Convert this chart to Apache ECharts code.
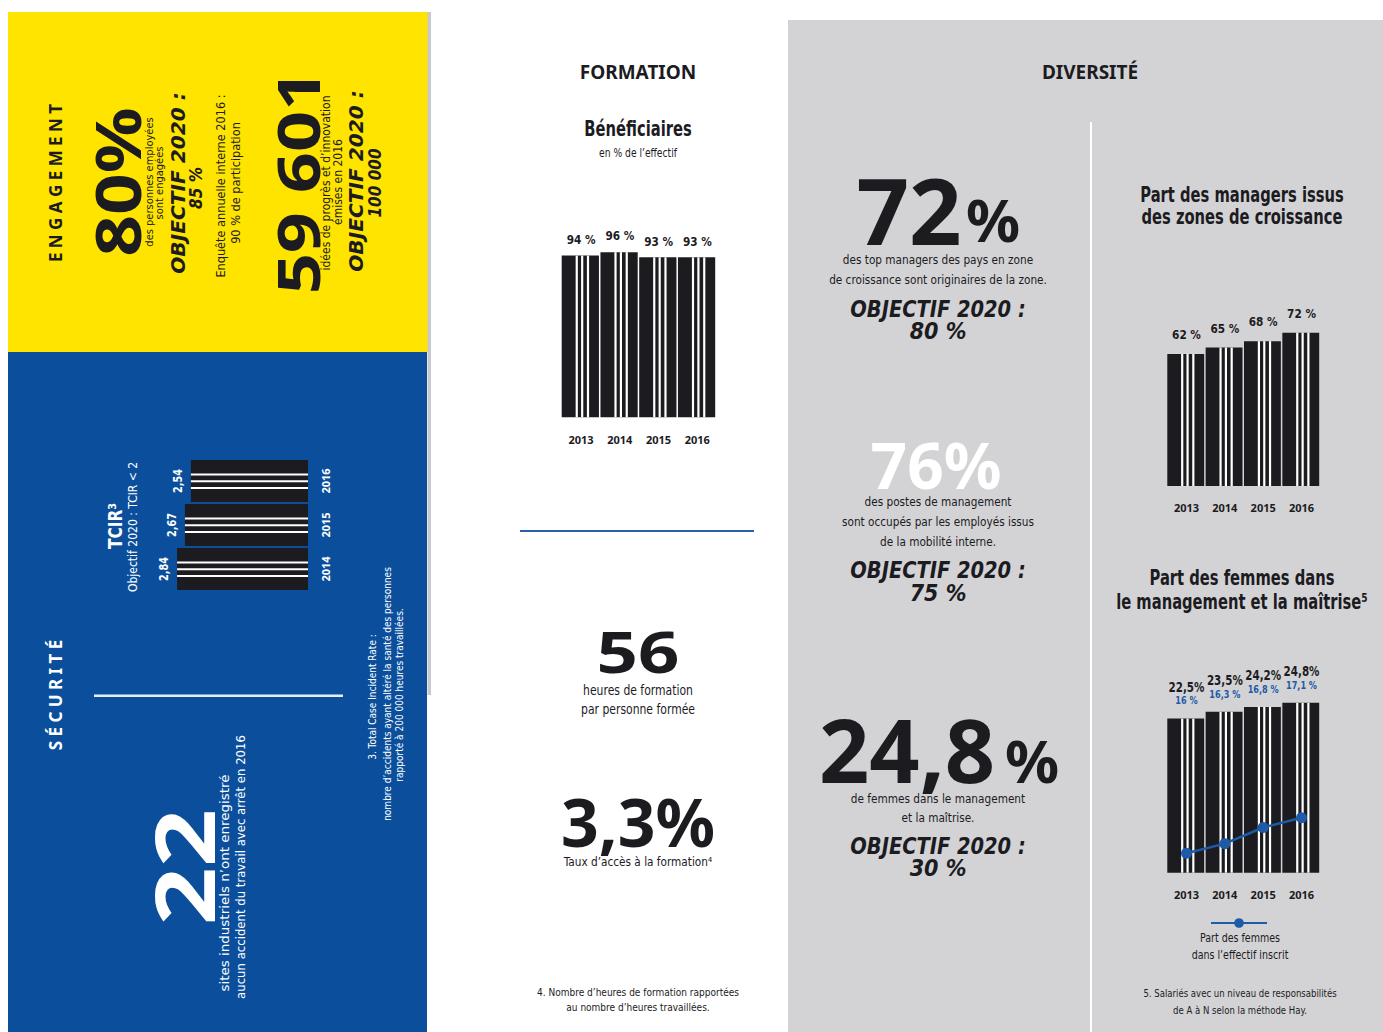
<!DOCTYPE html>
<html>
<head>
<meta charset="utf-8">
<script src="https://cdn.jsdelivr.net/npm/echarts@6/dist/echarts.min.js"></script>
<style>
  html, body { margin: 0; padding: 0; background: #fff; }
  #chart { width: 1383px; height: 1032px; }
</style>
</head>
<body>
<div id="chart"></div>
<script>
// chart values
const formationYears = ['2013', '2014', '2015', '2016'];
const formationValues = [94, 96, 93, 93];
const tcirYears = ['2014', '2015', '2016'];
const tcirValues = [2.84, 2.67, 2.54];
const managerYears = ['2013', '2014', '2015', '2016'];
const managerValues = [62, 65, 68, 72];
const womenYears = ['2013', '2014', '2015', '2016'];
const womenMgmtValues = [22.5, 23.5, 24.2, 24.8];
const womenStaffValues = [16, 16.3, 16.8, 17.1];

const INK = '#1c1b1f';
const BLUE = '#0b4f9c';
const YELLOW = '#ffe400';
const GRAY = '#d3d3d5';
const LINEBLUE = '#1d5aa8';
const NARROW = '"Liberation Sans Narrow", "DejaVu Sans Condensed", "Roboto Condensed", sans-serif';
const BOLD = '"Noto Sans", "Open Sans", sans-serif';
const STRIPES = [0.36, 0.5, 0.65];

const fr = v => String(v).replace('.', ',');

// text helper: sx squeezes/stretches along the reading direction
const txt = (text, x, y, size, o = {}) => ({
  type: 'text', x: x, y: y, z: 100,
  rotation: o.rot ? Math.PI / 2 : 0,
  scaleX: o.sx || 1,
  style: {
    text: text, fill: o.color || INK, align: 'center', verticalAlign: 'middle',
    fontSize: size, fontWeight: o.weight || 'normal', fontStyle: o.italic ? 'italic' : 'normal',
    fontFamily: o.family || NARROW,
    lineHeight: o.lh || Math.round(size * 1.2)
  }
});
const big = (text, x, y, size, o = {}) =>
  txt(text, x, y, size, Object.assign({ weight: 'bold', family: BOLD, lh: Math.round(size * 0.72) }, o));

// vertical barcode bar with a label above
const barcodeV = (labelFn) => (params, api) => {
  const c = api.value(0), v = api.value(1);
  const top = api.coord([c, v]);
  const base = api.coord([c, 0]);
  const w = api.size([1, 0])[0];
  const x0 = top[0] - w / 2;
  const h = base[1] - top[1];
  const kids = [{ type: 'rect', shape: { x: x0, y: top[1], width: w - 1.5, height: h }, style: { fill: INK } }];
  STRIPES.forEach(f => kids.push({ type: 'rect', shape: { x: x0 + f * w, y: top[1], width: 2.2, height: h }, style: { fill: '#fff' } }));
  labelFn(params.dataIndex, v, top).forEach(t => kids.push(t));
  return { type: 'group', children: kids };
};

// horizontal barcode bar (TCIR, drawn sideways)
const barcodeH = (params, api) => {
  const v = api.value(0), c = api.value(1);
  const end = api.coord([v, c]);
  const base = api.coord([0, c]);
  const h = api.size([0, 1])[1] - 2;
  const y0 = end[1] - h / 2;
  const left = Math.min(end[0], base[0]);
  const w = Math.abs(base[0] - end[0]);
  const kids = [{ type: 'rect', shape: { x: left, y: y0, width: w, height: h }, style: { fill: INK } }];
  [0.32, 0.48, 0.64].forEach(f => kids.push({ type: 'rect', shape: { x: left, y: y0 + f * h, width: w, height: 2 }, style: { fill: '#fff' } }));
  kids.push({
    type: 'text', x: left - 13, y: end[1], rotation: Math.PI / 2, scaleX: 0.9,
    style: { text: fr(v), fill: '#fff', align: 'center', verticalAlign: 'middle', fontSize: 12, fontWeight: 'bold', fontFamily: NARROW }
  });
  return { type: 'group', children: kids };
};

const simpleLabel = (fmt, off) => (i, v, top) => [{
  type: 'text', x: top[0], y: top[1] - off, scaleX: 0.9,
  style: { text: fmt(v), fill: INK, align: 'center', verticalAlign: 'middle', fontSize: 13, fontWeight: 'bold', fontFamily: NARROW }
}];

const womenLabel = (i, v, top) => [
  { type: 'text', x: top[0], y: top[1] - 32, scaleX: 0.82,
    style: { text: fr(v) + '%', fill: INK, align: 'center', verticalAlign: 'middle', fontSize: 14, fontWeight: 'bold', fontFamily: NARROW, lineHeight: 13 } },
  { type: 'text', x: top[0], y: top[1] - 18, scaleX: 0.82,
    style: { text: fr(womenStaffValues[i]) + ' %', fill: LINEBLUE, align: 'center', verticalAlign: 'middle', fontSize: 11, fontWeight: 'bold', fontFamily: NARROW, lineHeight: 11 } }
];

const yearAxis = (idx, data, margin) => ({
  type: 'category', gridIndex: idx, data: data,
  axisLine: { show: false }, axisTick: { show: false },
  axisLabel: { margin: margin, fontSize: 11, fontWeight: 'bold', color: INK, fontFamily: BOLD }
});
const hiddenValue = (idx, min, max, extra) => Object.assign({
  type: 'value', gridIndex: idx, min: min, max: max, show: false, splitLine: { show: false }
}, extra || {});

const graphics = [
  // panels
  { type: 'rect', z: 0, shape: { x: 8, y: 12, width: 420, height: 340 }, style: { fill: YELLOW } },
  { type: 'rect', z: 0, shape: { x: 8, y: 352, width: 419, height: 680 }, style: { fill: BLUE } },
  { type: 'rect', z: 0, shape: { x: 427.5, y: 12, width: 3.5, height: 683 }, style: { fill: '#c9c9cb' } },
  { type: 'rect', z: 0, shape: { x: 788, y: 20, width: 595, height: 1012 }, style: { fill: GRAY } },
  { type: 'rect', z: 1, shape: { x: 1090, y: 122, width: 2, height: 910 }, style: { fill: '#fff' } },
  { type: 'rect', z: 1, shape: { x: 94, y: 694.5, width: 249, height: 2.5 }, style: { fill: '#e8eef8' } },
  { type: 'rect', z: 1, shape: { x: 520, y: 530, width: 234, height: 2 }, style: { fill: '#2b5ea8' } },

  // ENGAGEMENT (sideways)
  txt('E N G A G E M E N T', 55, 183, 17, { rot: true, weight: 'bold', family: BOLD }),
  big('80%', 117, 182, 63, { rot: true, sx: 1.16 }),
  txt('des personnes employées', 149, 182, 11, { rot: true, lh: 11 }),
  txt('sont engagées', 159, 183, 11, { rot: true, lh: 11 }),
  txt('OBJECTIF 2020 :', 178, 183, 20, { rot: true, weight: 'bold', italic: true, sx: 1.12, lh: 17 }),
  txt('85 %', 196, 188, 17, { rot: true, weight: 'bold', italic: true, lh: 15 }),
  txt('Enquête annuelle interne 2016 :', 221, 186, 12, { rot: true, sx: 1.05, lh: 13 }),
  txt('90 % de participation', 236, 183, 12, { rot: true, sx: 1.05, lh: 13 }),
  big('59 601', 296, 182, 60, { rot: true, sx: 1.2 }),
  txt('idées de progrès et d\u2019innovation', 326, 183, 12, { rot: true, lh: 11 }),
  txt('émises en 2016', 338, 182, 12, { rot: true, lh: 11 }),
  txt('OBJECTIF 2020 :', 356, 181, 20, { rot: true, weight: 'bold', italic: true, sx: 1.12, lh: 17 }),
  txt('100 000', 375, 183, 17, { rot: true, weight: 'bold', italic: true, lh: 15 }),

  // SÉCURITÉ (sideways)
  txt('S É C U R I T É', 55, 695, 17, { rot: true, weight: 'bold', family: BOLD, color: '#fff' }),
  txt('TCIR³', 115, 526, 19, { rot: true, weight: 'bold', color: '#fff', sx: 0.9, lh: 16 }),
  txt('Objectif 2020 : TCIR < 2', 133, 527, 12, { rot: true, color: '#fff', lh: 12 }),
  big('22', 183, 867, 82, { rot: true, color: '#fff', sx: 1.24 }),
  txt('sites industriels n\u2019ont enregistré', 224, 883, 13, { rot: true, color: '#fff', sx: 1.15, lh: 14 }),
  txt('aucun accident du travail avec arrêt en 2016', 240, 867, 13, { rot: true, color: '#fff', lh: 14 }),
  txt('3. Total Case Incident Rate :', 372, 697, 10, { rot: true, color: '#fff', lh: 11 }),
  txt('nombre d\u2019accidents ayant altéré la santé des personnes', 387, 694, 10, { rot: true, color: '#fff', lh: 11 }),
  txt('rapporté à 200 000 heures travaillées.', 399, 695, 10, { rot: true, color: '#fff', lh: 11 }),

  // FORMATION
  txt('FORMATION', 638, 72, 19, { weight: 'bold', family: BOLD }),
  txt('Bénéficiaires', 638, 129, 21, { weight: 'bold', sx: 0.78 }),
  txt('en % de l\u2019effectif', 638, 153, 12, { sx: 0.85 }),
  big('56', 638, 650, 58, { sx: 1.25 }),
  txt('heures de formation', 638, 690, 14, { sx: 0.86, lh: 16 }),
  txt('par personne formée', 638, 709, 14, { sx: 0.86, lh: 16 }),
  big('3,3%', 638, 821, 66),
  txt('Taux d\u2019accès à la formation⁴', 638, 862, 13, { sx: 0.9, lh: 14 }),
  txt('4. Nombre d\u2019heures de formation rapportées', 638, 992, 10, { lh: 12 }),
  txt('au nombre d\u2019heures travaillées.', 638, 1007, 10, { lh: 12 }),

  // DIVERSITÉ
  txt('DIVERSITÉ', 1090, 72, 19, { weight: 'bold', family: BOLD }),
  big('72', 909, 209, 92),
  big('%', 993, 219, 60),
  txt('des top managers des pays en zone', 938, 260, 13, { sx: 0.9, lh: 15 }),
  txt('de croissance sont originaires de la zone.', 938, 280, 13, { sx: 0.9, lh: 15 }),
  txt('OBJECTIF 2020 :', 938, 309, 23, { weight: 'bold', italic: true, sx: 0.94, lh: 20 }),
  txt('80 %', 938, 331, 23, { weight: 'bold', italic: true, lh: 20 }),
  big('76%', 936, 464, 64, { color: '#fff' }),
  txt('des postes de management', 938, 502, 13, { sx: 0.9, lh: 15 }),
  txt('sont occupés par les employés issus', 938, 522, 13, { sx: 0.9, lh: 15 }),
  txt('de la mobilité interne.', 938, 542, 13, { sx: 0.9, lh: 15 }),
  txt('OBJECTIF 2020 :', 938, 570, 23, { weight: 'bold', italic: true, sx: 0.94, lh: 20 }),
  txt('75 %', 938, 593, 23, { weight: 'bold', italic: true, lh: 20 }),
  big('24,8', 907, 749, 88),
  big('%', 1032, 760, 60),
  txt('de femmes dans le management', 938, 799, 13, { sx: 0.9, lh: 15 }),
  txt('et la maîtrise.', 938, 818, 13, { sx: 0.9, lh: 15 }),
  txt('OBJECTIF 2020 :', 938, 846, 23, { weight: 'bold', italic: true, sx: 0.94, lh: 20 }),
  txt('30 %', 938, 868, 23, { weight: 'bold', italic: true, lh: 20 }),

  txt('Part des managers issus', 1242, 195, 21, { weight: 'bold', sx: 0.78, lh: 20 }),
  txt('des zones de croissance', 1242, 217, 21, { weight: 'bold', sx: 0.78, lh: 20 }),
  txt('Part des femmes dans', 1242, 578, 21, { weight: 'bold', sx: 0.78, lh: 20 }),
  txt('le management et la maîtrise⁵', 1242, 602, 21, { weight: 'bold', sx: 0.78, lh: 20 }),
  txt('Part des femmes', 1240, 938, 12, { sx: 0.88, lh: 14 }),
  txt('dans l\u2019effectif inscrit', 1240, 955, 12, { sx: 0.88, lh: 14 }),
  txt('5. Salariés avec un niveau de responsabilités', 1240, 993, 10, { sx: 0.95, lh: 12 }),
  txt('de A à N selon la méthode Hay.', 1240, 1010, 10, { sx: 0.95, lh: 12 })
];

const option = {
  animation: false,
  backgroundColor: '#fff',
  graphic: { elements: graphics },
  legend: {
    data: ['Part des femmes dans l\u2019effectif inscrit'],
    left: 1210, top: 917, padding: 0,
    itemWidth: 56, itemHeight: 12,
    formatter: () => '',
    textStyle: { fontSize: 1 }
  },
  grid: [
    { left: 169.7, top: 459, width: 138.3, height: 132 },
    { left: 561.7, top: 245.3, width: 155, height: 172 },
    { left: 1167.3, top: 273, width: 153.4, height: 213 },
    { left: 1167.3, top: 701.5, width: 153.4, height: 171.2 }
  ],
  xAxis: [
    hiddenValue(0, 0, 3, { inverse: true }),
    yearAxis(1, formationYears, 17),
    yearAxis(2, managerYears, 16),
    yearAxis(3, womenYears, 16)
  ],
  yAxis: [
    {
      type: 'category', gridIndex: 0, data: tcirYears, position: 'right',
      axisLine: { show: false }, axisTick: { show: false },
      axisLabel: { rotate: 90, margin: 12, fontSize: 11, fontWeight: 'bold', color: '#fff', fontFamily: BOLD }
    },
    hiddenValue(1, 0, 100),
    hiddenValue(2, 0, 100),
    hiddenValue(3, 0, 25),
    hiddenValue(3, 15.4, 20.7)
  ],
  series: [
    {
      type: 'custom', name: 'TCIR', xAxisIndex: 0, yAxisIndex: 0,
      renderItem: barcodeH, encode: { x: 0, y: 1 },
      data: tcirValues.map((v, i) => [v, i])
    },
    {
      type: 'custom', name: 'Bénéficiaires', xAxisIndex: 1, yAxisIndex: 1,
      renderItem: barcodeV(simpleLabel(v => fr(v) + ' %', 16)), encode: { x: 0, y: 1 },
      data: formationValues.map((v, i) => [i, v])
    },
    {
      type: 'custom', name: 'Managers', xAxisIndex: 2, yAxisIndex: 2,
      renderItem: barcodeV(simpleLabel(v => fr(v) + ' %', 19)), encode: { x: 0, y: 1 },
      data: managerValues.map((v, i) => [i, v])
    },
    {
      type: 'custom', name: 'Femmes management', xAxisIndex: 3, yAxisIndex: 3,
      renderItem: barcodeV(womenLabel), encode: { x: 0, y: 1 },
      data: womenMgmtValues.map((v, i) => [i, v])
    },
    {
      type: 'line', name: 'Part des femmes dans l\u2019effectif inscrit',
      xAxisIndex: 3, yAxisIndex: 4, z: 10,
      data: womenStaffValues,
      symbol: 'circle', symbolSize: 11,
      itemStyle: { color: LINEBLUE },
      lineStyle: { color: LINEBLUE, width: 2.5 }
    }
  ]
};

const chart = echarts.init(document.getElementById('chart'), null, { renderer: 'svg' });
chart.setOption(option);
</script>
</body>
</html>
